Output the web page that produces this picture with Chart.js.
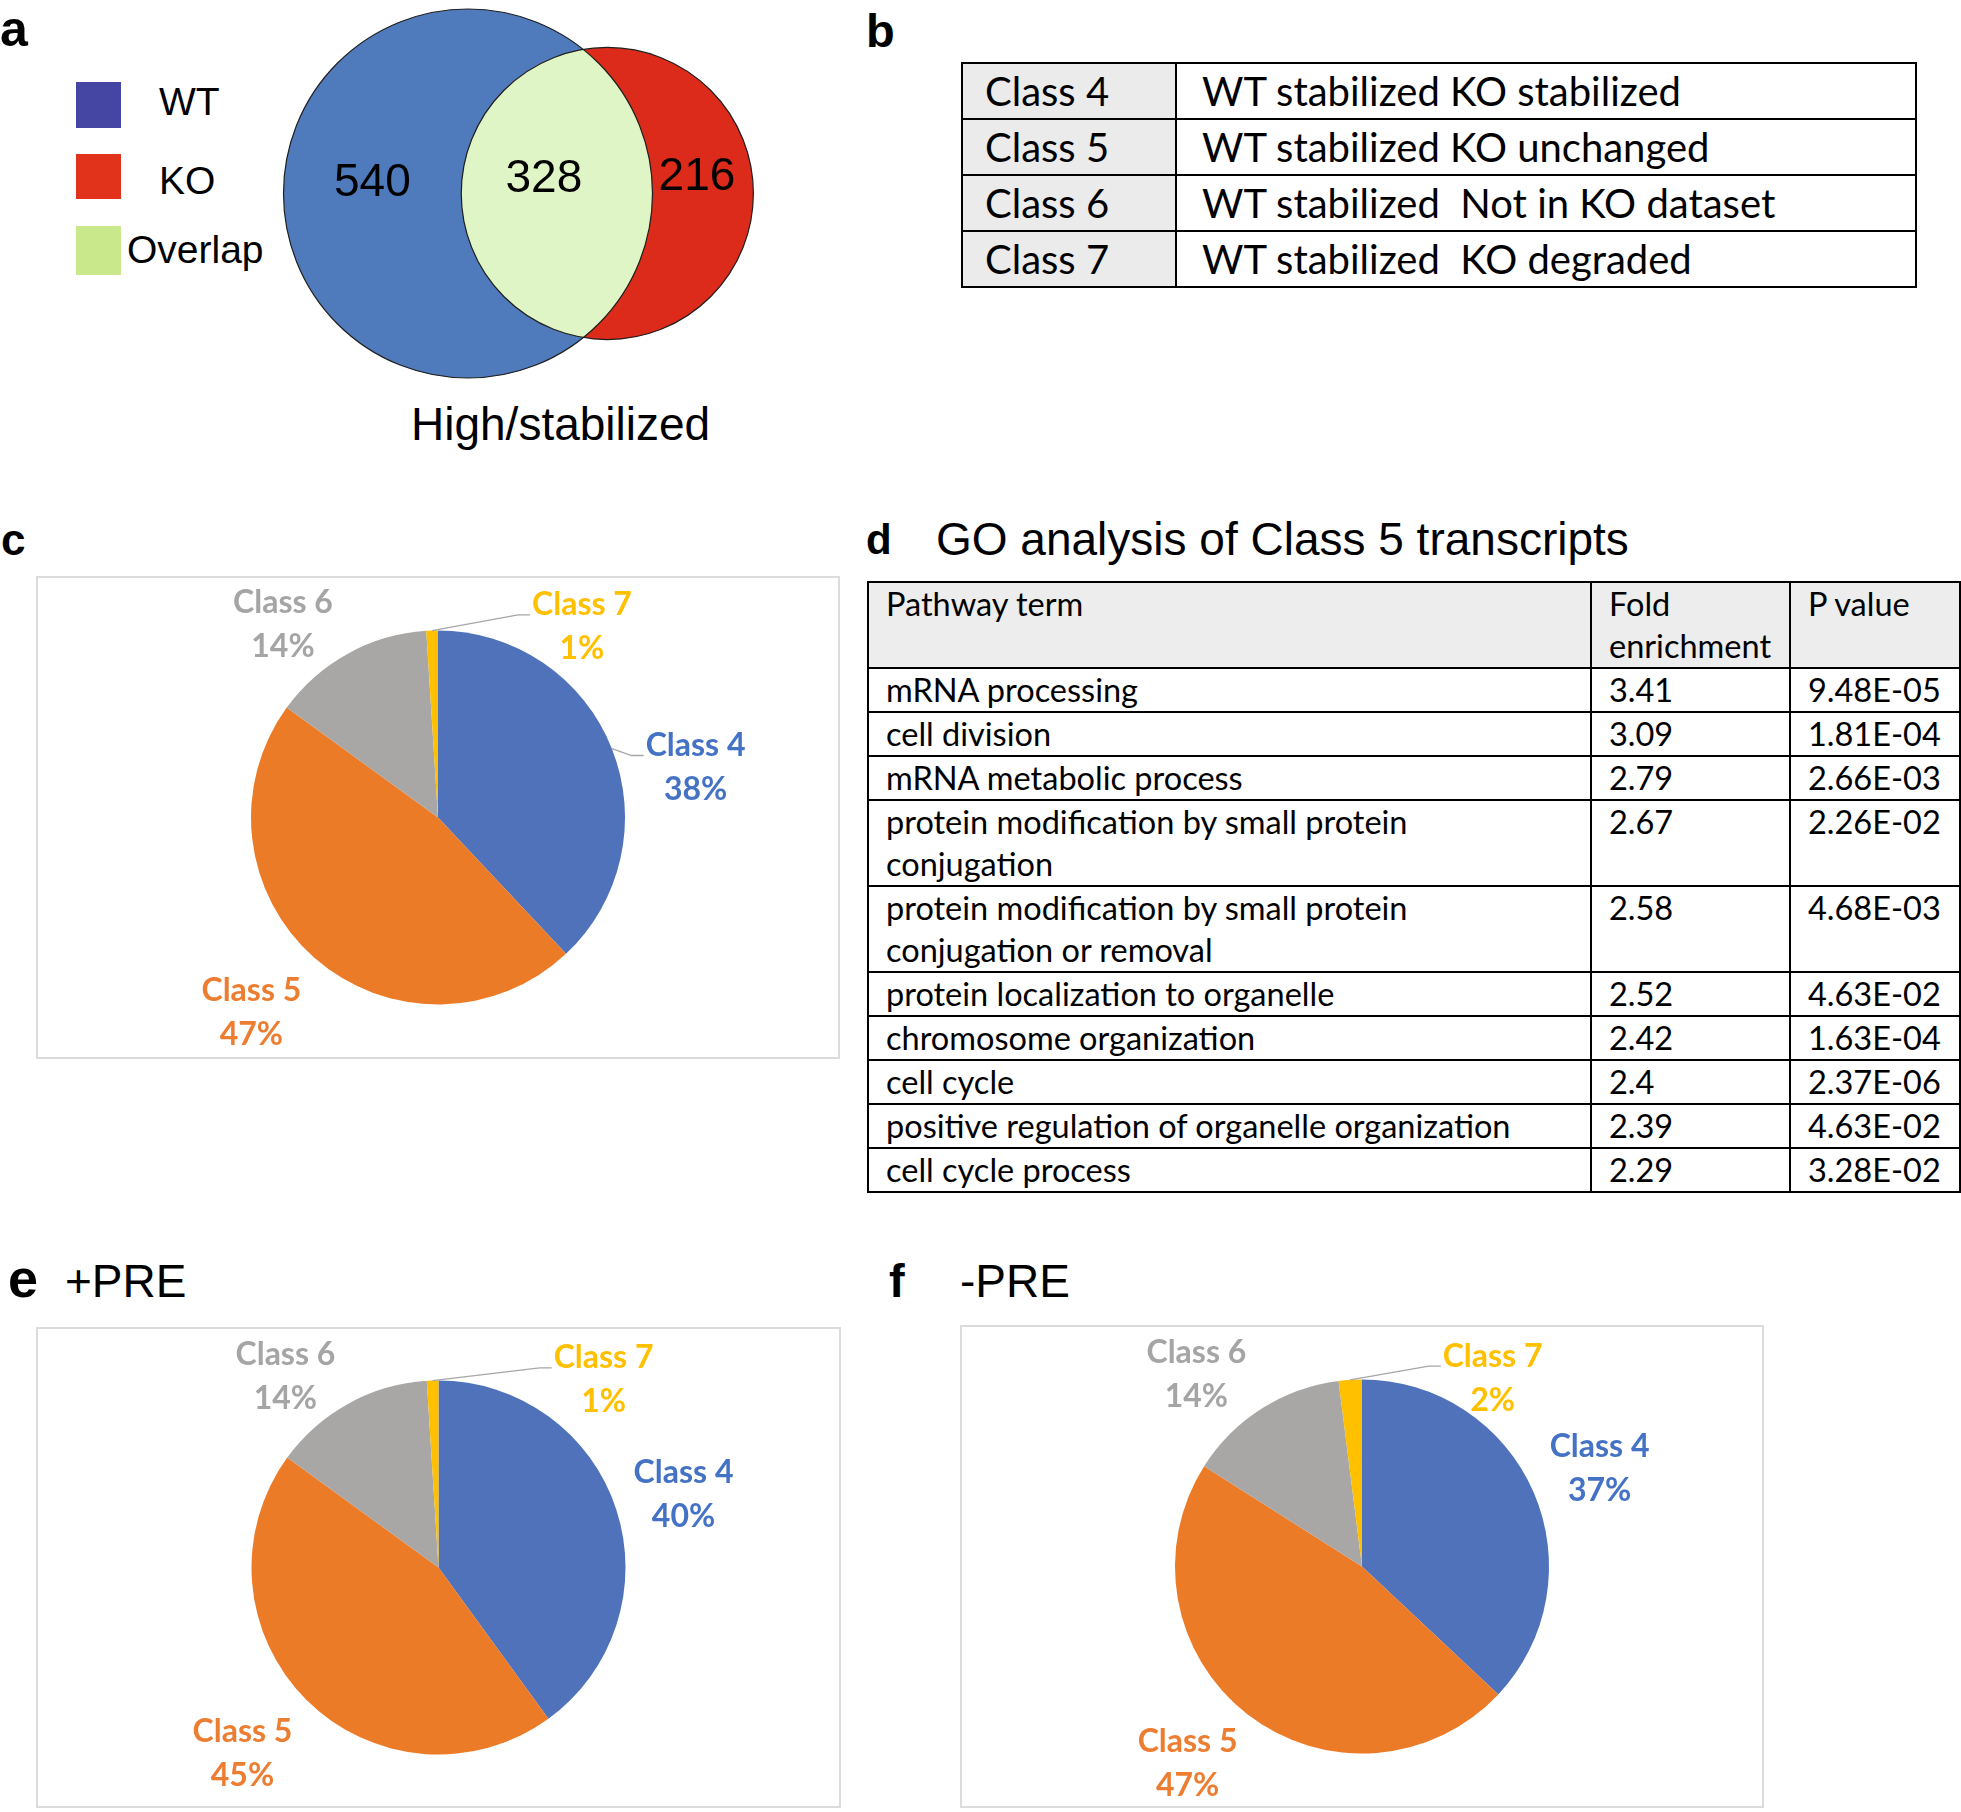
<!DOCTYPE html>
<html>
<head>
<meta charset="utf-8">
<script src="https://cdn.jsdelivr.net/npm/chart.js@4.4.1/dist/chart.umd.min.js"></script>
<style>
body{margin:0;background:#fff;}
#page{position:relative;width:1961px;height:1812px;overflow:hidden;font-family:"Liberation Sans",Arial,sans-serif;color:#000;}
.t{position:absolute;white-space:nowrap;line-height:1;}
.b{font-weight:bold;}
.sq{position:absolute;}
.box{position:absolute;border:2px solid #DCDCDC;box-sizing:border-box;}
.box canvas{position:absolute;left:0;top:0;}
#cls{position:absolute;left:961px;top:62px;width:954px;border-collapse:collapse;table-layout:fixed;font-family:Lato,sans-serif;font-size:40px;}
#cls td{border:2px solid #000;height:54px;line-height:54px;padding:0 0 0 22px;white-space:pre;overflow:hidden;}
#cls td:first-child{background:#EBEBEB;}
#cls td:last-child{padding-left:25px;}
#go{position:absolute;left:867px;top:581px;width:1092px;border-collapse:collapse;table-layout:fixed;font-family:Lato,sans-serif;font-size:32.5px;}
#go td{border:2px solid #000;padding:0 0 0 17px;line-height:42px;vertical-align:top;white-space:pre-line;}
#go tr.h td{background:#EDEDED;}
#venn{position:absolute;left:270px;top:0;}
#err{position:absolute;left:300px;top:300px;color:red;font-size:20px;}
</style>
</head>
<body>
<div id="page">
  <!-- panel a -->
  <div class="t b" style="left:0;top:4px;font-size:50px">a</div>
  <div class="sq" style="left:76px;top:82px;width:45px;height:46px;background:#4545A4"></div>
  <div class="sq" style="left:76px;top:154px;width:45px;height:45px;background:#E1321B"></div>
  <div class="sq" style="left:76px;top:226px;width:45px;height:49px;background:#C8E88B"></div>
  <div class="t" id="lgA" style="left:159px;top:82px;font-size:39px"></div>
  <div class="t" id="lgB" style="left:159px;top:161px;font-size:39px"></div>
  <div class="t" style="left:127px;top:230px;font-size:39px">Overlap</div>
  <canvas id="venn" width="500" height="390"></canvas>
  <div class="t" style="left:411px;top:401px;font-size:46px">High/stabilized</div>

  <!-- panel b -->
  <div class="t b" style="left:866px;top:7px;font-size:47px">b</div>
  <table id="cls"><colgroup><col style="width:214px"><col style="width:740px"></colgroup><tbody></tbody></table>

  <!-- panel c -->
  <div class="t b" style="left:1px;top:518px;font-size:44px">c</div>
  <div class="box" style="left:36px;top:576px;width:804px;height:483px"><canvas id="pieC" width="800" height="479"></canvas></div>

  <!-- panel d -->
  <div class="t b" style="left:866px;top:519px;font-size:42px">d</div>
  <div class="t" style="left:936px;top:516px;font-size:46px">GO analysis of Class 5 transcripts</div>
  <table id="go"><colgroup><col style="width:723px"><col style="width:199px"><col style="width:170px"></colgroup><tbody></tbody></table>

  <!-- panel e -->
  <div class="t b" style="left:8px;top:1251px;font-size:54px">e</div>
  <div class="t" style="left:65px;top:1258px;font-size:46px">+PRE</div>
  <div class="box" style="left:36px;top:1327px;width:805px;height:481px"><canvas id="pieE" width="801" height="477"></canvas></div>

  <!-- panel f -->
  <div class="t b" style="left:889px;top:1257px;font-size:47px">f</div>
  <div class="t" style="left:960px;top:1258px;font-size:46px">-PRE</div>
  <div class="box" style="left:960px;top:1325px;width:804px;height:483px"><canvas id="pieF" width="800" height="479"></canvas></div>
  <div id="err"></div>
</div>

<script>
// ---- data ----
// a: Venn counts (High/stabilized)
const vennSets = ['WT', 'KO'];
const vennOnly = [540, 216];
const vennShared = 328;
const vennColors = ['#4F7BBC', '#DC2B1A'];
const vennOverlapColor = '#E0F5C5';

// b: class definitions
const classNames = ['Class 4', 'Class 5', 'Class 6', 'Class 7'];
const classDesc = ['WT stabilized KO stabilized', 'WT stabilized KO unchanged', 'WT stabilized  Not in KO dataset', 'WT stabilized  KO degraded'];

// d: GO analysis of class 5
const goHeader = ['Pathway term', 'Fold\nenrichment', 'P value'];
const goTerms = ['mRNA processing', 'cell division', 'mRNA metabolic process',
  'protein modification by small protein\nconjugation',
  'protein modification by small protein\nconjugation or removal',
  'protein localization to organelle', 'chromosome organization', 'cell cycle',
  'positive regulation of organelle organization', 'cell cycle process'];
const goFold = [3.41, 3.09, 2.79, 2.67, 2.58, 2.52, 2.42, 2.4, 2.39, 2.29];
const goPval = ['9.48E-05', '1.81E-04', '2.66E-03', '2.26E-02', '4.68E-03', '4.63E-02', '1.63E-04', '2.37E-06', '4.63E-02', '3.28E-02'];

// c, e, f: class shares (%)
const pieLabels = ['Class 4', 'Class 5', 'Class 6', 'Class 7'];
const pieAll = [38, 47, 14, 1];
const piePlusPre = [40, 45, 14, 1];
const pieMinusPre = [37, 47, 14, 2];
const pieColors = ['#4F72BA', '#EC7B27', '#A9A7A5', '#FFC000'];
const labelColors = ['#4472C4', '#ED7D31', '#A5A5A5', '#FFC000'];

try {
// ---- tables ----
document.getElementById('lgA').textContent = vennSets[0];
document.getElementById('lgB').textContent = vennSets[1];

let rows = '';
classNames.forEach((c, i) => { rows += '<tr><td>' + c + '</td><td>' + classDesc[i] + '</td></tr>'; });
document.querySelector('#cls tbody').innerHTML = rows;

const lines = s => s.split('\n').length;
rows = '<tr class="h" style="height:' + (2 * 42 + 2) + 'px">' + goHeader.map(h => '<td>' + h + '</td>').join('') + '</tr>';
goTerms.forEach((t, i) => {
  rows += '<tr style="height:' + (lines(t) * 42 + 2) + 'px"><td>' + t + '</td><td>' + goFold[i] + '</td><td>' + goPval[i] + '</td></tr>';
});
document.querySelector('#go tbody').innerHTML = rows;

// ---- Venn (area proportional) ----
const nA = vennOnly[0] + vennShared, nB = vennOnly[1] + vennShared;
const rA = Math.sqrt(nA / Math.PI), rB = Math.sqrt(nB / Math.PI);
function lensArea(d) {
  const a = Math.acos(Math.max(-1, Math.min(1, (d * d + rA * rA - rB * rB) / (2 * d * rA))));
  const b = Math.acos(Math.max(-1, Math.min(1, (d * d + rB * rB - rA * rA) / (2 * d * rB))));
  return rA * rA * (a - Math.sin(2 * a) / 2) + rB * rB * (b - Math.sin(2 * b) / 2);
}
let lo = rA - rB, hi = rA + rB;
for (let k = 0; k < 60; k++) { const m = (lo + hi) / 2; if (lensArea(m) > vennShared) lo = m; else hi = m; }
const vennDist = (lo + hi) / 2;

const vennPx = 184.5 / rA;          // pixels per unit
const vennW = 500, vennH = 390, vennCx = 198, vennCy = 193.5;

const vennPlugin = {
  id: 'vennCircles',
  afterDatasetsDraw(chart) {
    const ctx = chart.ctx, sx = chart.scales.x;
    const pts = chart.getDatasetMeta(0).data;
    const rad = [rA, rB].map(r => Math.abs(sx.getPixelForValue(r) - sx.getPixelForValue(0)));
    const [a, b] = pts, [ra, rb] = rad;
    ctx.save();
    pts.forEach((p, i) => {
      ctx.beginPath(); ctx.arc(p.x, p.y, rad[i], 0, 2 * Math.PI);
      ctx.fillStyle = vennColors[i]; ctx.fill();
    });
    ctx.save();
    ctx.beginPath(); ctx.arc(a.x, a.y, ra, 0, 2 * Math.PI); ctx.clip();
    ctx.beginPath(); ctx.arc(b.x, b.y, rb, 0, 2 * Math.PI);
    ctx.fillStyle = vennOverlapColor; ctx.fill();
    ctx.restore();
    ctx.strokeStyle = '#1f1f1f'; ctx.lineWidth = 1.2;
    pts.forEach((p, i) => { ctx.beginPath(); ctx.arc(p.x, p.y, rad[i], 0, 2 * Math.PI); ctx.stroke(); });
    ctx.fillStyle = '#000'; ctx.font = '46px "Liberation Sans", Arial'; ctx.textAlign = 'center';
    const capOff = 0.358 * 46;
    ctx.fillText(String(vennOnly[0]), (a.x - ra + b.x - rb) / 2, a.y - 13.5 + capOff);
    ctx.fillText(String(vennShared), (b.x - rb + a.x + ra) / 2 - 13, a.y - 17.5 + capOff);
    ctx.fillText(String(vennOnly[1]), (a.x + ra + b.x + rb) / 2 - 6, a.y - 20 + capOff);
    ctx.restore();
  }
};

new Chart(document.getElementById('venn'), {
  type: 'scatter',
  data: { datasets: [{ data: [{ x: 0, y: 0 }, { x: vennDist, y: 0 }], pointRadius: 0, pointHoverRadius: 0 }] },
  options: {
    responsive: false, animation: false, events: [],
    layout: { padding: 0 },
    plugins: { legend: { display: false }, tooltip: { enabled: false } },
    scales: {
      x: { type: 'linear', display: false, min: -vennCx / vennPx, max: (vennW - vennCx) / vennPx },
      y: { type: 'linear', display: false, min: -(vennH - vennCy) / vennPx, max: vennCy / vennPx }
    }
  },
  plugins: [vennPlugin]
});

// ---- pies ----
function pieLabelPlugin(place, leaders) {
  return {
    id: 'pieLabels',
    afterDatasetsDraw(chart) {
      const ctx = chart.ctx;
      const meta = chart.getDatasetMeta(0);
      const vals = chart.data.datasets[0].data;
      const total = vals.reduce((s, v) => s + v, 0);
      meta.data.forEach((arc, i) => {
        const r = arc.outerRadius;
        const ang = place[i][0] * Math.PI / 180 - Math.PI / 2;
        const lx = arc.x + Math.cos(ang) * place[i][1] * r;
        const ly = arc.y + Math.sin(ang) * place[i][1] * r;
        const y1 = ly - 22, y2 = ly + 22, cap = 0.358 * 32;
        ctx.save();
        ctx.font = 'bold 32px Lato, sans-serif';
        ctx.textAlign = 'center';
        ctx.fillStyle = labelColors[i];
        ctx.fillText(pieLabels[i], lx, y1 + cap);
        ctx.fillText(Math.round(vals[i] / total * 100) + '%', lx, y2 + cap);
        if (leaders[i]) {
          const left = lx - ctx.measureText(pieLabels[i]).width / 2;
          const mid = (arc.startAngle + arc.endAngle) / 2;
          ctx.strokeStyle = '#A6A6A6'; ctx.lineWidth = 1.3;
          ctx.beginPath();
          ctx.moveTo(arc.x + Math.cos(mid) * r, arc.y + Math.sin(mid) * r);
          ctx.lineTo(left - 14, y1 + 11);
          ctx.lineTo(left - 2, y1 + 11);
          ctx.stroke();
        }
        ctx.restore();
      });
    }
  };
}

function makePie(id, values, place, leaders) {
  new Chart(document.getElementById(id), {
    type: 'pie',
    data: { labels: pieLabels, datasets: [{ data: values, backgroundColor: pieColors, borderWidth: 0 }] },
    options: {
      responsive: false, animation: false, events: [],
      radius: 187,
      layout: { padding: 0 },
      plugins: { legend: { display: false }, tooltip: { enabled: false } }
    },
    plugins: [pieLabelPlugin(place, leaders)]
  });
}

// label placement: [angle clockwise from top (deg), distance / radius]
makePie('pieC', pieAll,
  [[78.8, 1.404], [223.9, 1.439], [321.3, 1.326], [36.9, 1.282]],
  [true, false, false, true]);
makePie('pieE', piePlusPre,
  [[73.3, 1.368], [226.6, 1.443], [321.5, 1.315], [41.2, 1.34]],
  [false, false, false, true]);
makePie('pieF', pieMinusPre,
  [[67.3, 1.377], [221.7, 1.402], [319.4, 1.361], [34.6, 1.23]],
  [false, false, false, true]);
} catch (e) {
  document.getElementById('err').textContent = e.message;
}
</script>
</body>
</html>
